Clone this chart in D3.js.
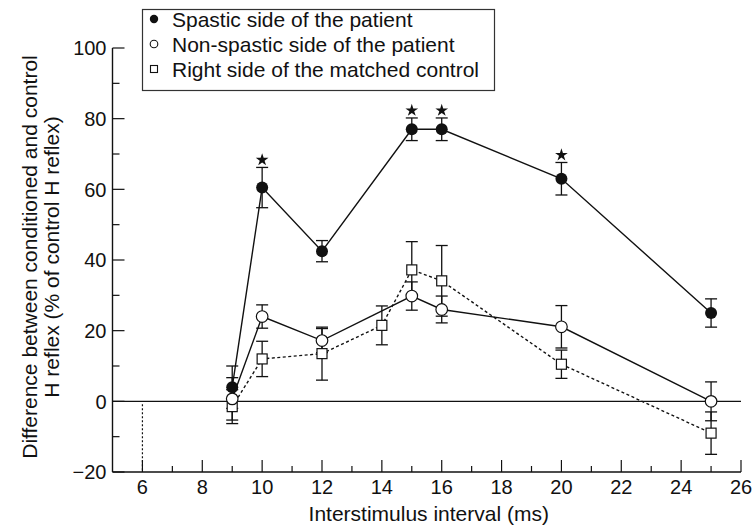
<!DOCTYPE html>
<html>
<head>
<meta charset="utf-8">
<script src="https://cdn.jsdelivr.net/npm/d3@7"></script>
<style>
  html, body { margin: 0; padding: 0; background: #fff; }
  svg text { font-family: "Liberation Sans", Arial, Helvetica, sans-serif; fill: #111; }
</style>
</head>
<body>
<div id="chart"></div>
<script>
// ─── Data ───────────────────────────────────────────────────────

const seriesNames = [
    'Spastic side of the patient',
    'Non-spastic side of the patient',
    'Right side of the matched control'
];

// spastic side (filled circles)
const spasticX   = [9, 10, 12, 15, 16, 20, 25];
const spasticY   = [4, 60.5, 42.5, 77, 77, 63, 25];
const spasticErr = [6, 5.7, 3, 3.2, 3.2, 4.6, 4];

// non-spastic side (open circles)
const nonSpasticX   = [9, 10, 12, 15, 16, 20, 25];
const nonSpasticY   = [0.7, 24, 17.2, 29.8, 26, 21.1, 0];
const nonSpasticErr = [6, 3.3, 3.4, 4, 3.8, 6, 5.5];

// matched control (open squares, dotted line)
const controlX   = [9, 10, 12, 14, 15, 16, 20, 25];
const controlY   = [-1.5, 12, 13.5, 21.5, 37.2, 34.1, 10.5, -9];
const controlErr = [4.8, 5, 7.5, 5.5, 8, 10, 4, 6];

// significant points (stars) on the spastic curve
const starX = [10, 15, 16, 20];

const xTickLabels = [6, 8, 10, 12, 14, 16, 18, 20, 22, 24, 26];
const yTickLabels = [-20, 0, 20, 40, 60, 80, 100];

// ─── Layout ─────────────────────────────────────────────────────

const W = 752, H = 527;
const plot = { left: 112.5, right: 741, top: 48, bottom: 472 };

const x = d3.scaleLinear().domain([5, 26]).range([plot.left, plot.right]);
const y = d3.scaleLinear().domain([-20, 100]).range([plot.bottom, plot.top]);

const svg = d3.select('#chart').append('svg')
    .attr('width', W).attr('height', H);

const zip = (xs, ys, es) => xs.map((v, i) => ({ x: v, y: ys[i], e: es[i] }));
const spastic = zip(spasticX, spasticY, spasticErr);
const nonSpastic = zip(nonSpasticX, nonSpasticY, nonSpasticErr);
const control = zip(controlX, controlY, controlErr);

const STROKE = '#111';

// ─── Axes (ticks point inward) ──────────────────────────────────

svg.append('line')
    .attr('x1', plot.left).attr('x2', plot.left)
    .attr('y1', y(100)).attr('y2', y(-20))
    .attr('stroke', STROKE).attr('stroke-width', 1.4);

svg.append('line')
    .attr('x1', plot.left).attr('x2', x(26))
    .attr('y1', y(-20)).attr('y2', y(-20))
    .attr('stroke', STROKE).attr('stroke-width', 1.4);

// y ticks: every 10, major every 20
svg.append('g').selectAll('line')
    .data(d3.range(-20, 101, 10))
    .join('line')
    .attr('x1', plot.left)
    .attr('x2', d => plot.left + (d % 20 === 0 ? 12 : 7))
    .attr('y1', d => y(d)).attr('y2', d => y(d))
    .attr('stroke', STROKE).attr('stroke-width', 1.2);

svg.append('g').selectAll('text')
    .data(yTickLabels)
    .join('text')
    .attr('x', plot.left - 6)
    .attr('y', d => y(d))
    .attr('dy', '0.36em')
    .attr('text-anchor', 'end')
    .attr('font-size', 20)
    .text(d => d < 0 ? '\u2212' + Math.abs(d) : d);

// x ticks: every 1 ms, major every 2
svg.append('g').selectAll('line')
    .data(d3.range(6, 27, 1))
    .join('line')
    .attr('x1', d => x(d)).attr('x2', d => x(d))
    .attr('y1', y(-20))
    .attr('y2', d => y(-20) - (d % 2 === 0 ? 12 : 6))
    .attr('stroke', STROKE).attr('stroke-width', 1.2);

svg.append('g').selectAll('text')
    .data(xTickLabels)
    .join('text')
    .attr('x', d => x(d))
    .attr('y', 494)
    .attr('text-anchor', 'middle')
    .attr('font-size', 20)
    .text(d => d);

// axis titles
svg.append('text')
    .attr('x', (x(5) + x(26)) / 2 + 2)
    .attr('y', 521)
    .attr('text-anchor', 'middle')
    .attr('font-size', 21)
    .text('Interstimulus interval (ms)');

const yTitle = svg.append('text')
    .attr('transform', `translate(0,${(plot.top + plot.bottom) / 2 - 3}) rotate(-90)`)
    .attr('text-anchor', 'middle')
    .attr('font-size', 21);
yTitle.append('tspan').attr('x', 0).attr('y', 37).text('Difference between conditioned and control');
yTitle.append('tspan').attr('x', 0).attr('y', 59).text('H reflex (% of control H reflex)');

// zero reference line + dotted drop at 6 ms
svg.append('line')
    .attr('x1', plot.left).attr('x2', x(26))
    .attr('y1', y(0)).attr('y2', y(0))
    .attr('stroke', STROKE).attr('stroke-width', 1.3);

svg.append('line')
    .attr('x1', x(6)).attr('x2', x(6))
    .attr('y1', y(0) + 3).attr('y2', y(-20))
    .attr('stroke', STROKE).attr('stroke-width', 1.2)
    .attr('stroke-dasharray', '2,2');

// ─── Series ─────────────────────────────────────────────────────

const line = d3.line().x(d => x(d.x)).y(d => y(d.y));
const CAP = 6;

function drawErrors(data) {
    const g = svg.append('g');
    data.forEach(d => {
        const cx = x(d.x), y1 = y(d.y + d.e), y2 = y(d.y - d.e);
        g.append('line').attr('x1', cx).attr('x2', cx).attr('y1', y1).attr('y2', y2)
            .attr('stroke', STROKE).attr('stroke-width', 1.3);
        [y1, y2].forEach(yy => g.append('line')
            .attr('x1', cx - CAP).attr('x2', cx + CAP).attr('y1', yy).attr('y2', yy)
            .attr('stroke', STROKE).attr('stroke-width', 1.3));
    });
}

function drawLine(data, dash) {
    svg.append('path').datum(data)
        .attr('d', line)
        .attr('fill', 'none')
        .attr('stroke', STROKE)
        .attr('stroke-width', 1.4)
        .attr('stroke-dasharray', dash || null);
}

drawErrors(control);
drawErrors(nonSpastic);
drawErrors(spastic);

drawLine(control, '3,2.5');
drawLine(nonSpastic);
drawLine(spastic);

svg.append('g').selectAll('rect')
    .data(control)
    .join('rect')
    .attr('x', d => x(d.x) - 5).attr('y', d => y(d.y) - 5)
    .attr('width', 10).attr('height', 10)
    .attr('fill', '#fff').attr('stroke', STROKE).attr('stroke-width', 1.2);

svg.append('g').selectAll('circle')
    .data(nonSpastic)
    .join('circle')
    .attr('cx', d => x(d.x)).attr('cy', d => y(d.y)).attr('r', 5.8)
    .attr('fill', '#fff').attr('stroke', STROKE).attr('stroke-width', 1.2);

svg.append('g').selectAll('circle')
    .data(spastic)
    .join('circle')
    .attr('cx', d => x(d.x)).attr('cy', d => y(d.y)).attr('r', 6)
    .attr('fill', STROKE);

// stars above the upper error cap
svg.append('g').selectAll('path')
    .data(spastic.filter(d => starX.includes(d.x)))
    .join('path')
    .attr('d', d3.symbol(d3.symbolStar).size(50))
    .attr('transform', d => `translate(${x(d.x)},${y(d.y + d.e) - 7.5})`)
    .attr('fill', STROKE);

// ─── Legend ─────────────────────────────────────────────────────

const legend = svg.append('g');
legend.append('rect')
    .attr('x', 142.5).attr('y', 9.5).attr('width', 352).attr('height', 81)
    .attr('fill', '#fff').attr('stroke', '#333').attr('stroke-width', 1.2);

const rowY = [19, 44, 69];
legend.append('circle').attr('cx', 154).attr('cy', rowY[0]).attr('r', 4.2).attr('fill', STROKE);
legend.append('circle').attr('cx', 154).attr('cy', rowY[1]).attr('r', 3.8)
    .attr('fill', '#fff').attr('stroke', STROKE).attr('stroke-width', 1.1);
legend.append('rect').attr('x', 150.5).attr('y', rowY[2] - 3.5).attr('width', 7).attr('height', 7)
    .attr('fill', '#fff').attr('stroke', STROKE).attr('stroke-width', 1.1);

legend.selectAll('text')
    .data(seriesNames)
    .join('text')
    .attr('x', 172)
    .attr('y', (d, i) => rowY[i])
    .attr('dy', '0.36em')
    .attr('font-size', 21)
    .text(d => d);
</script>
</body>
</html>
